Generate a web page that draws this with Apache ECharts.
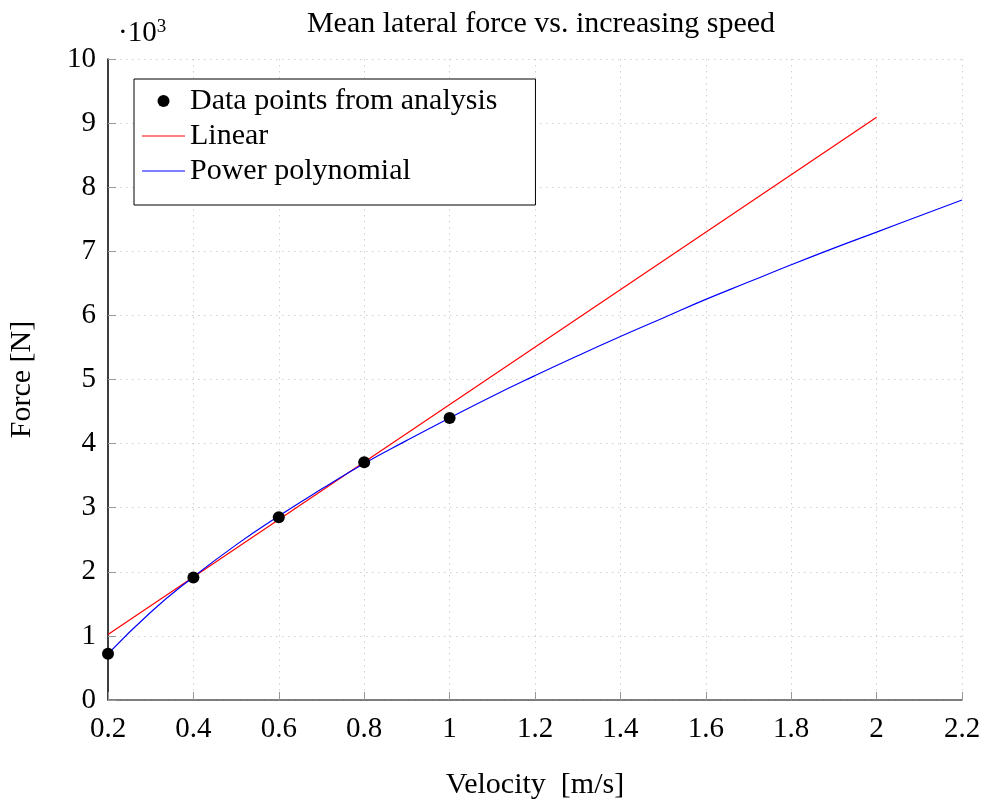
<!DOCTYPE html>
<html>
<head>
<meta charset="utf-8">
<script src="https://cdn.jsdelivr.net/npm/echarts@6/dist/echarts.min.js"></script>
<style>
html,body{margin:0;padding:0;background:#fff;}
#chart{width:984px;height:803px;}
</style>
</head>
<body>
<div id="chart"></div>
<script>
// Velocity [m/s] and force [N]
var pointVelocity = [0.2, 0.4, 0.6, 0.8, 1.0];
var pointForce = [720, 1910, 2850, 3710, 4400];

var linearVelocity = [0.2, 2.0];
var linearForce = [1020, 9090];

var powerVelocity = [0.2, 0.3, 0.4, 0.5, 0.6, 0.7, 0.8, 0.9, 1.0, 1.1, 1.2, 1.3, 1.4, 1.5, 1.6, 1.7, 1.8, 1.9, 2.0, 2.1, 2.2];
var powerForce = [720, 1370, 1920, 2420, 2870, 3290, 3690, 4050, 4400, 4740, 5060, 5370, 5670, 5960, 6250, 6520, 6790, 7050, 7300, 7550, 7800];

var xTicks = {min: 0.2, max: 2.2, interval: 0.2};
var yTicks = {min: 0, max: 10000, interval: 1000};

var seriesNames = ['Data points from analysis', 'Linear', 'Power polynomial'];

function zip(a, b) { return a.map(function (v, i) { return [v, b[i]]; }); }

var FONT = '"Liberation Serif", "DejaVu Serif", serif';
var FS = 30;
var chart = echarts.init(document.getElementById('chart'), null, {renderer: 'canvas'});

var LINE_ICON = 'path://M0,0 L430,0 L430,12 L0,12 Z';

var option = {
  backgroundColor: '#ffffff',
  animation: false,
  title: {
    text: 'Mean lateral force vs. increasing speed',
    left: 536, top: 4, textAlign: 'center',
    textStyle: {fontFamily: FONT, fontSize: FS, fontWeight: 'normal', color: '#000'}
  },
  graphic: [{
    type: 'text', left: 118, top: 18,
    style: {
      text: '·10{s|3}',
      rich: {s: {fontFamily: FONT, fontSize: 19, verticalAlign: 'top', padding: [0, 0, 12, 0], fill: '#000'}},
      fontFamily: FONT, fontSize: 29, fill: '#000'
    }
  }],
  legend: {
    orient: 'vertical',
    left: 134, top: 79,
    padding: [7, 38, 19, 8],
    borderColor: '#000', borderWidth: 1,
    backgroundColor: '#fff',
    itemWidth: 43, itemHeight: 12, itemGap: 5, itemTextGap: 5,
    textStyle: {fontFamily: FONT, fontSize: FS, color: '#000'},
    data: [
      {name: seriesNames[0], icon: 'circle'},
      {name: seriesNames[1], icon: LINE_ICON},
      {name: seriesNames[2], icon: LINE_ICON}
    ]
  },
  grid: {left: 108, right: 22, top: 59, bottom: 103, containLabel: false, outerBoundsMode: 'none'},
  xAxis: {
    type: 'value', min: xTicks.min, max: xTicks.max, interval: xTicks.interval,
    name: 'Velocity  [m/s]', nameLocation: 'middle', nameGap: 70,
    nameTextStyle: {fontFamily: FONT, fontSize: FS, color: '#000'},
    axisLine: {show: true, onZero: false, lineStyle: {color: '#555', width: 1.5}},
    axisTick: {show: true, inside: true, length: 8, lineStyle: {color: '#999', width: 1}},
    axisLabel: {fontFamily: FONT, fontSize: 29, color: '#000', margin: 15,
      formatter: function (v) { return String(Math.round(v * 10) / 10); }},
    splitLine: {show: true, lineStyle: {color: '#d0d0d0', type: [1.5, 4.5], width: 1}}
  },
  yAxis: {
    type: 'value', min: yTicks.min, max: yTicks.max, interval: yTicks.interval,
    name: 'Force [N]', nameLocation: 'middle', nameGap: 71, nameRotate: 90,
    nameTextStyle: {fontFamily: FONT, fontSize: FS, color: '#000'},
    axisLine: {show: true, onZero: false, lineStyle: {color: '#000', width: 1.5}},
    axisTick: {show: true, inside: true, length: 8, lineStyle: {color: '#999', width: 1}},
    axisLabel: {fontFamily: FONT, fontSize: 29, color: '#000', margin: 12,
      formatter: function (v) { return String(v / 1000); }},
    splitLine: {show: true, lineStyle: {color: '#d0d0d0', type: [1.5, 4.5], width: 1}}
  },
  series: [
    {
      name: seriesNames[1], type: 'line', data: zip(linearVelocity, linearForce),
      showSymbol: false, symbol: 'none', z: 2,
      lineStyle: {color: '#ff0000', width: 1.2}, itemStyle: {color: '#ff0000'}
    },
    {
      name: seriesNames[2], type: 'line', data: zip(powerVelocity, powerForce),
      showSymbol: false, symbol: 'none', smooth: 0.5, z: 3,
      lineStyle: {color: '#0000ff', width: 1.2}, itemStyle: {color: '#0000ff'}
    },
    {
      name: seriesNames[0], type: 'scatter', data: zip(pointVelocity, pointForce),
      symbol: 'circle', symbolSize: 12, z: 5,
      itemStyle: {color: '#000', opacity: 1}
    }
  ]
};
chart.setOption(option);
</script>
</body>
</html>
